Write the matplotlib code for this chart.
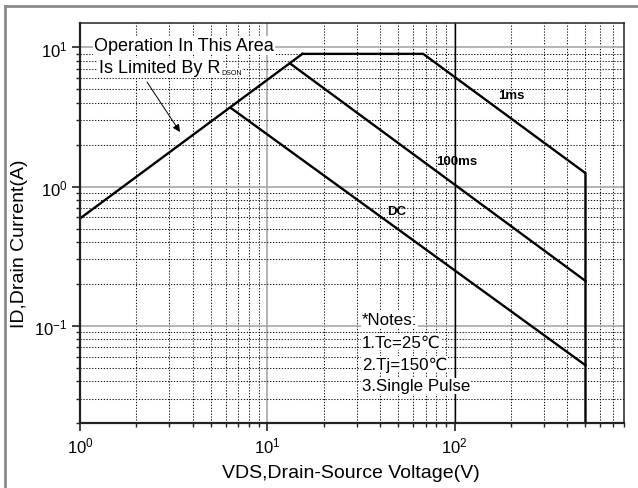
import matplotlib
matplotlib.use("Agg")
import matplotlib.pyplot as plt
from matplotlib.ticker import LogLocator, NullFormatter
from matplotlib.lines import Line2D

plt.rcParams['font.family'] = ['Liberation Sans', 'DejaVu Sans']
plt.rcParams['mathtext.fontset'] = 'custom'
plt.rcParams['mathtext.rm'] = 'Liberation Sans'
plt.rcParams['mathtext.it'] = 'Liberation Sans:italic'
plt.rcParams['mathtext.bf'] = 'Liberation Sans:bold'

# ---- data ----
rds_v = [1.0, 15.4]
rds_i = [0.59, 9.0]
ms1_v = [15.4, 68.0, 500.0, 500.0]
ms1_i = [9.0, 9.0, 1.25, 0.02]
ms100_v = [13.2, 500.0]
ms100_i = [7.7, 0.21]
dc_v = [6.4, 500.0]
dc_i = [3.67, 0.052]

curve_labels = ["1ms", "100ms", "DC"]
notes = ["*Notes:", "1.Tc=25\u2103", "2.Tj=150\u2103", "3.Single Pulse"]

fig = plt.figure(figsize=(6.38, 4.89), dpi=100)
ax = fig.add_axes([80/638, 1-424/489, 543.7/638, 400/489])

ax.set_xscale('log')
ax.set_yscale('log')
ax.set_xlim(1, 800)
ax.set_ylim(0.02, 15)

# grid
ax.xaxis.set_minor_locator(LogLocator(base=10, subs=range(2, 10)))
ax.yaxis.set_minor_locator(LogLocator(base=10, subs=range(2, 10)))
ax.xaxis.set_minor_formatter(NullFormatter())
ax.yaxis.set_minor_formatter(NullFormatter())
ax.grid(True, which='minor', color='#111111', linestyle=(0, (1.2, 1.6)), lw=0.75)
ax.grid(True, which='major', color='#a8a8a8', linestyle='-', lw=1.2)
ax.axvline(100, color='black', lw=1.0, zorder=1.5)
ax.set_axisbelow(True)

lw = 1.7
ax.plot(rds_v, rds_i, color='black', lw=lw, solid_joinstyle='miter')
ax.plot(ms1_v, ms1_i, color='black', lw=lw, solid_joinstyle='miter')
ax.plot(ms100_v, ms100_i, color='black', lw=lw)
ax.plot(dc_v, dc_i, color='black', lw=lw)

# spines & ticks
for s in ['left', 'bottom']:
    ax.spines[s].set_linewidth(1.6)
    ax.spines[s].set_color('#222222')
for s in ['top', 'right']:
    ax.spines[s].set_linewidth(1.1)
    ax.spines[s].set_color('#222222')
ax.tick_params(which='major', direction='out', length=6, width=1.2, labelsize=12, pad=3, color='#222222')
ax.tick_params(which='minor', direction='out', length=3, width=1.0, color='#222222')

ax.set_xlabel('VDS,Drain-Source Voltage(V)', fontsize=14)
ax.set_ylabel('ID,Drain Current(A)', fontsize=14)
ax.xaxis.set_label_coords(0.499, -0.103)
ax.yaxis.set_label_coords(-0.096, 0.45)

# curve labels
label_pos = [(511, 96), (457, 162), (397, 212)]
for txt, (px, py) in zip(curve_labels, label_pos):
    ax.text((px-80)/543.7, 1-(py-24)/400, txt, transform=ax.transAxes, fontsize=9.5,
            fontweight='bold', ha='center', va='center')

# RDS(on) annotation
bb = dict(facecolor='white', edgecolor='none', pad=0.6)
ax.text(0.0257, 0.933, 'Operation In This Area', transform=ax.transAxes, fontsize=13,
        ha='left', va='baseline', bbox=bb, zorder=5)
t2 = ax.text(0.0355, 0.878, 'Is Limited By R', transform=ax.transAxes, fontsize=13,
             ha='left', va='baseline', bbox=bb, zorder=5)
ax.annotate('DSON', xy=(1.0, 0.0), xycoords=t2, xytext=(0.5, 0), textcoords='offset points',
            fontsize=5, ha='left', va='bottom', bbox=dict(facecolor='white', edgecolor='none', pad=0.3),
            zorder=5)
ax.annotate('', xy=((180-80)/543.7, 1-(133-24)/400), xycoords='axes fraction',
            xytext=((147-80)/543.7, 1-(83-24)/400), textcoords='axes fraction',
            arrowprops=dict(arrowstyle='-|>', color='black', lw=0.7, mutation_scale=11,
                            shrinkA=0, shrinkB=0))

# notes
ys = [0.2475, 0.191, 0.1357, 0.0817]
for txt, y in zip(notes, ys):
    ax.text(0.518, y, txt, transform=ax.transAxes, fontsize=12.2, ha='left', va='baseline',
            bbox=dict(facecolor='white', edgecolor='none', pad=0.4), zorder=5)

# figure border (top and left gray lines)
fig.add_artist(Line2D([5/638, 5/638], [0, 1-7/489], transform=fig.transFigure, color='#8a8a8a', lw=2))
fig.add_artist(Line2D([5/638, 1], [1-7/489, 1-7/489], transform=fig.transFigure, color='#8a8a8a', lw=2))

fig.savefig('out.png', dpi=100)
